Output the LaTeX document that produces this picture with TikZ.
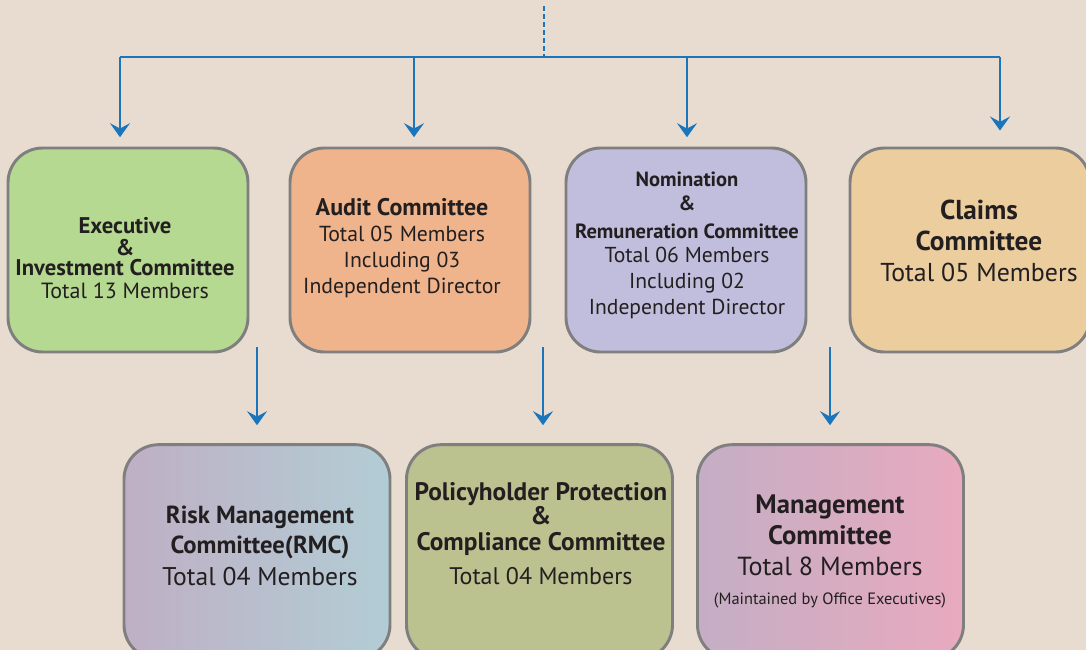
\documentclass[tikz,border=0pt]{standalone}
\usepackage{fontspec}
\setmainfont{PT Sans}
\usetikzlibrary{arrows.meta}
\definecolor{bgcol}{HTML}{E8DBD0}
\definecolor{linkblue}{HTML}{1B75BB}
\definecolor{boxline}{HTML}{7F7F7F}
\definecolor{execgreen}{HTML}{B5D991}
\definecolor{auditorange}{HTML}{EFB48C}
\definecolor{nomlilac}{HTML}{C0BEDC}
\definecolor{claimsand}{HTML}{EBCD9E}
\definecolor{rmcleft}{HTML}{BFAFC5}
\definecolor{rmcright}{HTML}{B2CDD5}
\definecolor{ppcolive}{HTML}{BBC18F}
\definecolor{mgmtleft}{HTML}{C4AEC5}
\definecolor{mgmtright}{HTML}{E8AABE}
\definecolor{txt}{HTML}{231F20}
\newcommand{\fs}[2]{\fontsize{#1}{#2}\selectfont}
\tikzset{
  cbox/.style={draw=boxline, line width=2.2pt, rounded corners=26pt,
    minimum width=180pt, minimum height=153pt, inner sep=0pt},
  lowbox/.style={cbox, minimum width=199.5pt, minimum height=161pt},
  ctext/.style={align=center, inner sep=0pt, text=txt},
  link/.style={draw=linkblue, line width=1.5pt,
    -{Stealth[length=10.5pt,width=15pt,inset=4pt]}},
  bus/.style={draw=linkblue, line width=2.2pt}
}
\begin{document}
\begin{tikzpicture}[x=0.75pt,y=-0.75pt]
  \useasboundingbox (0,0) rectangle (1086,650);
  \fill[bgcol] (0,0) rectangle (1086,650);

  % upper row
  \node[cbox, fill=execgreen] (exec) at (128,250) {};
  \node[cbox, fill=auditorange] (audit) at (410,250) {};
  \node[cbox, fill=nomlilac] (nomin) at (686,250) {};
  \node[cbox, fill=claimsand] (claims) at (970,250) {};

  \node[ctext, font=\fs{16.5}{15}] (exec-t) at (125,258)
    {\fs{17}{15}\bfseries Executive\\[1.5pt] \fs{17}{15}\bfseries\&\\[0.5pt]
     \fs{17}{15}\bfseries Investment Committee\\[2pt]
     Total 13 Members};
  \node[ctext, font=\fs{16.3}{19.5}] (audit-t) at (402,248)
    {\fs{18}{19.5}\bfseries Audit Committee\\[0.5pt]
     Total 05 Members\\ Including 03\\ Independent Director};
  \node[ctext, font=\fs{16.2}{19.5}] (nomin-t) at (687,245.5)
    {\fs{15.4}{15}\bfseries Nomination\\[-1.5pt] \fs{15.4}{15}\bfseries\&\\[1pt]
     \fs{15.4}{15}\bfseries Remuneration Committee\\[-1.5pt]
     Total 06 Members\\ Including 02\\ Independent Director};
  \node[ctext, font=\fs{19.4}{23.2}] (claims-t) at (979,240.5)
    {\fs{20.5}{23.2}\bfseries Claims\\ \fs{20.5}{23.2}\bfseries Committee\\
     Total 05 Members};

  % lower row
  \node[lowbox, left color=rmcleft, right color=rmcright] (rmc) at (257,552) {};
  \node[lowbox, fill=ppcolive] (ppc) at (539.5,552) {};
  \node[lowbox, left color=mgmtleft, right color=mgmtright] (mgmt) at (830.5,552) {};

  \node[ctext, font=\fs{19.2}{22.5}] (rmc-t) at (260,546)
    {\fs{18.5}{22.5}\bfseries Risk Management\\ \fs{18.5}{22.5}\bfseries Committee(RMC)\\[2pt]
     Total 04 Members};
  \node[ctext, font=\fs{18}{18}] (ppc-t) at (541,534)
    {\fs{19}{18}\bfseries Policyholder Protection\\[0pt] \fs{19}{18}\bfseries\&\\[1pt]
     \fs{19}{18}\bfseries Compliance Committee\\[8pt]
     Total 04 Members};
  \node[ctext, font=\fs{19.6}{23.2}] (mgmt-t) at (830,551.5)
    {\fs{20}{23.2}\bfseries Management\\ \fs{20}{23.2}\bfseries Committee\\
     Total 8 Members\\[-1pt]
     \fs{12.3}{23.2}(Maintained by Office Executives)};

  % board line and bus
  \coordinate (top) at (544,6);
  \coordinate (hub) at (544,57);
  \coordinate (b1) at (120,57);
  \coordinate (b2) at (414,57);
  \coordinate (b3) at (687,57);
  \coordinate (b4) at (1000,57);
  \draw[linkblue, line width=1.5pt, dash pattern=on 4pt off 2pt] (top) -- (hub);
  \draw[bus] (b1) -- (b4);
  \draw[link, shorten >=7pt] (b1) -- (b1 |- exec.north);
  \draw[link, shorten >=7pt] (b2) -- (b2 |- audit.north);
  \draw[link, shorten >=7pt] (b3) -- (b3 |- nomin.north);
  \draw[link, shorten >=12pt] (b4) -- (b4 |- claims.north);

  % links to lower row
  \coordinate (r1) at (257,347);
  \coordinate (p1) at (543,347);
  \coordinate (m1) at (830,347);
  \draw[link, shorten >=13.5pt] (r1) -- (r1 |- rmc.north);
  \draw[link, shorten >=13.5pt] (p1) -- (p1 |- ppc.north);
  \draw[link, shorten >=13.5pt] (m1) -- (m1 |- mgmt.north);
\end{tikzpicture}
\end{document}
